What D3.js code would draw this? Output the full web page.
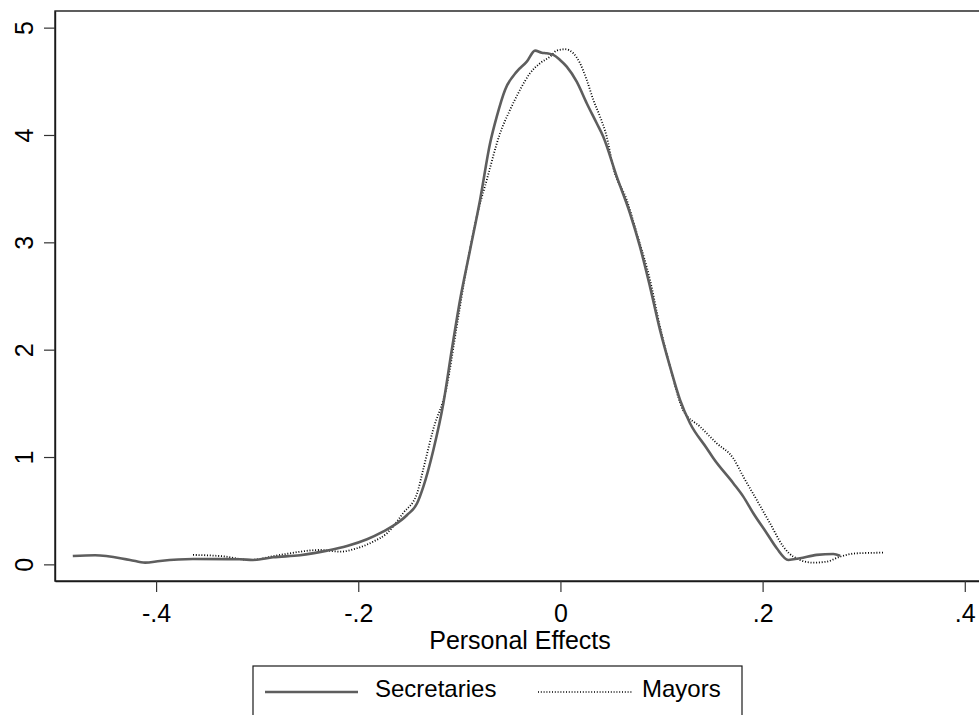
<!DOCTYPE html>
<html>
<head>
<meta charset="utf-8">
<script src="https://cdn.jsdelivr.net/npm/d3@7"></script>
<style>
  html, body { margin: 0; padding: 0; background: #fff; overflow: hidden; }
  svg { display: block; font-family: "Liberation Sans", Arial, sans-serif; }
</style>
</head>
<body>
<svg id="chart" width="979" height="715"></svg>
<script>
// Kernel density estimates of personal effects
const secretariesX = [-0.4824, -0.4604, -0.4258, -0.4109, -0.3961, -0.3635, -0.3170, -0.3041, -0.2843, -0.2576,
  -0.2309, -0.2111, -0.1913, -0.1755, -0.1656, -0.1517, -0.1418, -0.1356, -0.1257, -0.1158,
  -0.1075, -0.0993, -0.0894, -0.0795, -0.0696, -0.0630, -0.0548, -0.0432, -0.0333, -0.0251,
  -0.0185, -0.0136, -0.0070, -0.0004, 0.0062, 0.0161, 0.0260, 0.0359, 0.0424, 0.0557,
  0.0688, 0.0787, 0.0886, 0.0985, 0.1084, 0.1183, 0.1282, 0.1447, 0.1513, 0.1710,
  0.1809, 0.1908, 0.2041, 0.2140, 0.2254, 0.2370, 0.2535, 0.2700, 0.2766];
const secretariesY = [0.078, 0.085, 0.041, 0.016, 0.032, 0.050, 0.048, 0.041, 0.066, 0.085,
  0.128, 0.171, 0.234, 0.305, 0.358, 0.460, 0.569, 0.724, 1.066, 1.501,
  1.997, 2.463, 2.929, 3.395, 3.923, 4.171, 4.420, 4.590, 4.683, 4.786,
  4.767, 4.761, 4.746, 4.699, 4.637, 4.497, 4.296, 4.109, 3.984, 3.612,
  3.271, 2.960, 2.587, 2.184, 1.842, 1.532, 1.315, 1.082, 0.988, 0.756,
  0.631, 0.476, 0.290, 0.150, 0.041, 0.057, 0.088, 0.097, 0.081];

const mayorsX = [-0.3635, -0.3338, -0.3071, -0.2774, -0.2378, -0.2180, -0.2012, -0.1854, -0.1716, -0.1557,
  -0.1418, -0.1359, -0.1260, -0.1125, -0.1026, -0.0927, -0.0828, -0.0729, -0.0597, -0.0499,
  -0.0400, -0.0301, -0.0202, -0.0103, -0.0037, 0.0046, 0.0128, 0.0194, 0.0260, 0.0325,
  0.0392, 0.0458, 0.0520, 0.0656, 0.0755, 0.0886, 0.0985, 0.1084, 0.1213, 0.1381,
  0.1546, 0.1710, 0.1809, 0.1942, 0.2073, 0.2205, 0.2304, 0.2502, 0.2634, 0.2766,
  0.2931, 0.3194];
const mayorsY = [0.088, 0.075, 0.041, 0.088, 0.134, 0.118, 0.150, 0.211, 0.290, 0.476,
  0.662, 0.879, 1.252, 1.655, 2.214, 2.773, 3.239, 3.581, 4.016, 4.233,
  4.420, 4.575, 4.668, 4.730, 4.786, 4.799, 4.761, 4.668, 4.513, 4.327,
  4.171, 3.984, 3.705, 3.395, 3.085, 2.650, 2.214, 1.842, 1.438, 1.283,
  1.128, 0.988, 0.817, 0.600, 0.383, 0.165, 0.072, 0.016, 0.025, 0.072,
  0.103, 0.109];

const xTicks = [-0.4, -0.2, 0, 0.2, 0.4];
const yTicks = [0, 1, 2, 3, 4, 5];
const seriesNames = ["Secretaries", "Mayors"];
const axisTitle = "Personal Effects";

const svg = d3.select("#chart");

const plot = { left: 55, right: 985, top: 11, bottom: 581 };
const x = d3.scaleLinear().domain([-0.5, 0.42]).range([plot.left, plot.right]);
const y = d3.scaleLinear().domain([-0.155, 5.155]).range([plot.bottom, plot.top]);

// tick labels in the style "-.4", ".2", "0", "5"
const fmt = v => String(v).replace(/^(-?)0\./, "$1.");

// plot region border
svg.append("rect")
  .attr("x", plot.left).attr("y", plot.top)
  .attr("width", plot.right - plot.left).attr("height", plot.bottom - plot.top)
  .attr("fill", "none").attr("stroke", "#1a1a1a").attr("stroke-width", 1.4);

// x axis
const xAxis = svg.append("g")
  .attr("transform", `translate(0,${plot.bottom})`)
  .call(d3.axisBottom(x).tickValues(xTicks).tickFormat(fmt).tickSize(11).tickSizeOuter(0).tickPadding(12));
xAxis.select(".domain").attr("stroke", "#1a1a1a").attr("stroke-width", 1.4);
xAxis.selectAll(".tick line").attr("stroke", "#333").attr("stroke-width", 1.2);
xAxis.selectAll(".tick text").attr("font-size", 25).attr("fill", "#000")
  .attr("font-family", "Liberation Sans, Arial, sans-serif");

// y axis with vertical labels
const yAxis = svg.append("g")
  .attr("transform", `translate(${plot.left},0)`)
  .call(d3.axisLeft(y).tickValues(yTicks).tickFormat(fmt).tickSize(11).tickSizeOuter(0));
yAxis.select(".domain").attr("stroke", "#1a1a1a").attr("stroke-width", 1.4);
yAxis.selectAll(".tick line").attr("stroke", "#333").attr("stroke-width", 1.2);
yAxis.selectAll(".tick text")
  .attr("font-size", 25).attr("fill", "#000")
  .attr("font-family", "Liberation Sans, Arial, sans-serif")
  .attr("x", null).attr("dy", null)
  .attr("text-anchor", "middle")
  .attr("transform", "translate(-22,0) rotate(-90)");

// axis title
svg.append("text")
  .attr("x", 520).attr("y", 649)
  .attr("text-anchor", "middle")
  .attr("font-size", 25).attr("fill", "#000")
  .text(axisTitle);

const line = d3.line().curve(d3.curveMonotoneX);

const secPts = secretariesX.map((v, i) => [x(v), y(secretariesY[i])]);
const mayPts = mayorsX.map((v, i) => [x(v), y(mayorsY[i])]);

svg.append("path")
  .attr("d", line(mayPts))
  .attr("fill", "none").attr("stroke", "#000").attr("stroke-width", 1.8)
  .attr("stroke-dasharray", "1,1.8");

svg.append("path")
  .attr("d", line(secPts))
  .attr("fill", "none").attr("stroke", "#5e5e5e").attr("stroke-width", 2.6)
  .attr("stroke-linejoin", "round");

// legend
const legend = svg.append("g");
legend.append("rect")
  .attr("x", 253).attr("y", 666).attr("width", 489).attr("height", 80)
  .attr("fill", "#fff").attr("stroke", "#1a1a1a").attr("stroke-width", 1.2);
legend.append("line")
  .attr("x1", 265).attr("x2", 358).attr("y1", 692).attr("y2", 692)
  .attr("stroke", "#5e5e5e").attr("stroke-width", 2.6);
legend.append("text")
  .attr("x", 375).attr("y", 697).attr("font-size", 24).attr("fill", "#000")
  .text(seriesNames[0]);
legend.append("line")
  .attr("x1", 538).attr("x2", 633).attr("y1", 692).attr("y2", 692)
  .attr("stroke", "#000").attr("stroke-width", 1.6).attr("stroke-dasharray", "1,1.8");
legend.append("text")
  .attr("x", 642).attr("y", 697).attr("font-size", 24).attr("fill", "#000")
  .text(seriesNames[1]);
</script>
</body>
</html>
